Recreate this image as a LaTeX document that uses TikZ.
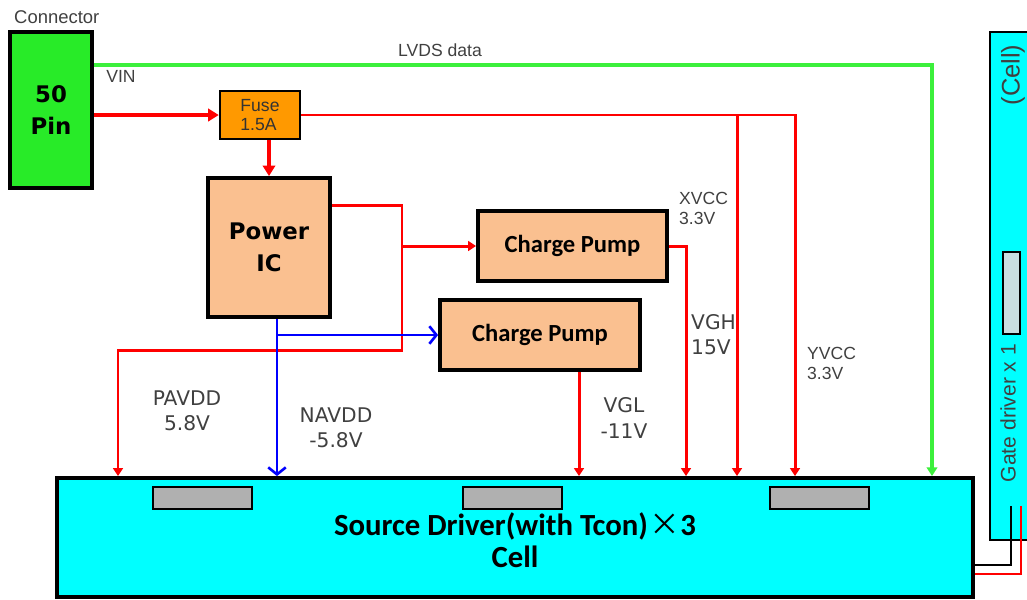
\documentclass[tikz,border=0pt]{standalone}
\usepackage{fontspec}
\setmainfont{Liberation Sans}
\newfontfamily\vfont{DejaVu Sans}
\newfontfamily\cfont{Carlito}
\newfontfamily\cjk{Noto Sans CJK SC}
\usetikzlibrary{arrows.meta}

\definecolor{pingreen}{RGB}{40,235,40}
\definecolor{lvdsgreen}{RGB}{60,240,60}
\definecolor{fuseorange}{RGB}{255,153,0}
\definecolor{peach}{RGB}{250,192,144}
\definecolor{cellcyan}{RGB}{0,255,255}
\definecolor{chipgray}{RGB}{176,176,176}
\definecolor{gdgray}{RGB}{200,222,224}
\definecolor{lblgray}{RGB}{64,64,64}

\begin{document}
\begin{tikzpicture}[
    x=0.02cm, y=-0.02cm,
    every node/.style={align=center},
    blk/.style={draw, line width=2.2pt, fill=peach, inner sep=0pt},
    pinbox/.style={blk, fill=pingreen, minimum width=1.64cm, minimum height=3.12cm,
      font=\vfont\bfseries\fontsize{13}{18.5}\selectfont},
    fusebox/.style={draw, line width=1.4pt, fill=fuseorange, minimum width=1.6cm,
      minimum height=0.96cm, font=\fontsize{10}{11.3}\selectfont, text=black!80},
    icbox/.style={blk, minimum width=2.44cm, minimum height=2.78cm,
      font=\vfont\bfseries\fontsize{13}{18.5}\selectfont},
    pumpbox/.style={blk, minimum height=1.4cm, font=\cfont\bfseries\fontsize{14}{16}\selectfont},
    srcbox/.style={blk, fill=cellcyan, minimum width=18.32cm, minimum height=2.38cm},
    chip/.style={draw, line width=1.2pt, fill=chipgray, minimum width=1.98cm, minimum height=0.44cm},
    lbl/.style={font=\fontsize{10}{11.3}\selectfont, text=lblgray, align=left},
    vlbl/.style={font=\vfont\fontsize{11.5}{14.5}\selectfont, text=black!75},
    thickpwr/.style={draw=red, line width=2.3pt, -{Triangle[length=6pt,width=7pt]}},
    pwr/.style={draw=red, line width=1.7pt, -{Triangle[length=4.5pt,width=5.5pt]}},
    neg/.style={draw=blue, line width=1.6pt, -{Straight Barb[length=4pt,width=10pt,line width=1.5pt]}},
    lvds/.style={draw=lvdsgreen, line width=1.8pt, -{Triangle[length=5pt,width=6pt]}},
  ]
    \useasboundingbox (0,0) rectangle (1027,599);

    % --- columns and rows of the rails ---
    \coordinate (cPA)  at (118,0);
    \coordinate (cNA)  at (277,0);
    \coordinate (cJ)   at (402,0);
    \coordinate (cVGL) at (579,0);
    \coordinate (cVGH) at (686,0);
    \coordinate (cX)   at (737,0);
    \coordinate (cY)   at (795,0);
    \coordinate (cLV)  at (932,0);
    \coordinate (rLV)  at (0,65);
    \coordinate (rPIC) at (0,205);
    \coordinate (rPA)  at (0,350);
    \coordinate (rBk)  at (0,565);
    \coordinate (rRd)  at (0,574);
    \coordinate (gdBk) at (1011,506);
    \coordinate (gdRd) at (1021,506);

    % --- cell panel (right) ---
    \node[draw, line width=1.2pt, fill=cellcyan, minimum width=1.0cm, minimum height=10.16cm]
      (cell) at (1015,286) {};
    \node[draw, line width=1pt, fill=gdgray, minimum width=0.34cm, minimum height=1.64cm]
      (gd) at (1011.5,293) {};
    \node[lbl, rotate=90, font=\fontsize{14.5}{16}\selectfont] (celltxt) at (1013,75) {(Cell)};
    \node[lbl, rotate=90, font=\fontsize{12}{14}\selectfont] (gdtxt) at (1008,413) {Gate driver x 1};

    % --- blocks ---
    \node[pinbox] (pin) at (51,110) {50\\Pin};
    \node[fusebox, align=left] (fuse) at (260,115) {Fuse\\1.5A};
    \node[icbox] (pic) at (269,247.5) {Power\\IC};
    \node[pumpbox, minimum width=3.78cm] (cpa) at (572.5,246) {Charge Pump};
    \node[pumpbox, minimum width=4.0cm] (cpb) at (540,335) {Charge Pump};
    \node[srcbox] (src) at (515,537.5) {};
    \node[chip] (chipa) at (202.5,498) {};
    \node[chip] (chipb) at (512.5,498) {};
    \node[chip] (chipc) at (819.5,498) {};
    \node[font=\cfont\bfseries\fontsize{17.5}{18.5}\selectfont] (srctxt) at (515,540)
      {Source Driver(with Tcon)\hspace{1pt}{\cjk\mdseries ×}3\\Cell};

    % --- labels ---
    \node[lbl, anchor=west, font=\fontsize{10.5}{12}\selectfont] (contxt) at (8,17) {Connector};
    \node[lbl] (lvdstxt) at (440,50) {LVDS data};
    \node[lbl] (vintxt) at (121,76) {VIN};
    \node[lbl, anchor=north west] (xvcc) at (673,186) {XVCC\\3.3V};
    \node[vlbl, anchor=north west, align=left] (vgh) at (685,308) {VGH\\15V};
    \node[lbl, anchor=north west] (yvcc) at (801,341) {YVCC\\3.3V};
    \node[vlbl] (pavdd) at (187,411) {PAVDD\\5.8V};
    \node[vlbl] (navdd) at (336,428) {NAVDD\\-5.8V};
    \node[vlbl] (vgl) at (624,418) {VGL\\-11V};

    % --- data and input ---
    \draw[lvds] (pin.east |- rLV) -| (cLV |- src.north);
    \draw[thickpwr] (pin.east |- fuse.west) -- (fuse.west);
    \draw[thickpwr] (fuse.south -| pic.north) -- (pic.north);

    % --- fused 3.3V rails ---
    \draw[pwr] (fuse.east) -| (cY |- src.north);
    \draw[pwr] (cX |- fuse.east) -- (cX |- src.north);

    % --- power IC outputs ---
    \draw[pwr] (pic.east |- rPIC) -| (cJ |- rPA) -| (cPA |- src.north);
    \draw[pwr] (cJ |- cpa.west) -- (cpa.west);
    \draw[neg] (cNA |- pic.south) -- (cNA |- src.north);
    \draw[neg] (cNA |- cpb.west) -- (cpb.west);

    % --- charge pump outputs ---
    \draw[pwr] (cpa.east) -| (cVGH |- src.north);
    \draw[pwr] (cVGL |- cpb.south) -- (cVGL |- src.north);

    % --- wires to gate driver ---
    \draw[line width=1.2pt] (src.east |- rBk) -| (gdBk);
    \draw[red, line width=1.2pt] (src.east |- rRd) -| (gdRd);
  \end{tikzpicture}
\end{document}
